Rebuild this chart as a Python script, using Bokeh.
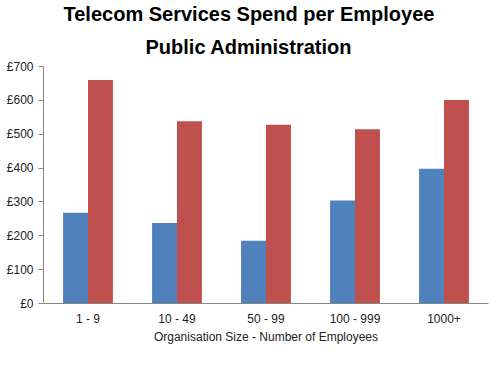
from bokeh.plotting import figure
from bokeh.models import (ColumnDataSource, FactorRange, Range1d, Title, Legend, LegendItem,
                          PrintfTickFormatter, FixedTicker)
from bokeh.transform import dodge
from bokeh.embed import file_html
from bokeh.resources import INLINE

categories = ["1 - 9", "10 - 49", "50 - 99", "100 - 999", "1000+"]
public_admin = [268, 238, 185, 304, 398]
all_uk = [660, 538, 528, 515, 601]
series_names = ["Public Administration", "All UK Organisations"]
y_ticks = [0, 100, 200, 300, 400, 500, 600, 700]

src = ColumnDataSource(dict(cat=categories, pa=public_admin, uk=all_uk))

FONT = "Liberation Sans"

p = figure(x_range=FactorRange(*categories, range_padding=0), y_range=Range1d(0, 700),
           frame_width=445, frame_height=237, output_backend="svg", toolbar_location=None,
           min_border_left=43, min_border_right=4, min_border_top=61, min_border_bottom=75)
p.outline_line_color = None
p.background_fill_color = "white"
p.border_fill_color = "white"
p.xgrid.grid_line_color = None
p.ygrid.grid_line_color = None

r1 = p.vbar(x=dodge("cat", -0.14, range=p.x_range), top="pa", width=0.28, source=src,
            fill_color="#4F81BD", line_color=None)
r2 = p.vbar(x=dodge("cat", 0.14, range=p.x_range), top="uk", width=0.28, source=src,
            fill_color="#C0504D", line_color=None)

# titles
t2 = Title(text="Public Administration", align="left", text_font=FONT, text_font_size="20px",
           text_font_style="bold", text_color="black", standoff=18, offset=102)
t1 = Title(text="Telecom Services Spend per Employee", align="left", text_font=FONT,
           text_font_size="20px", text_font_style="bold", text_color="black", standoff=0,
           offset=20)
p.add_layout(t2, "above")
p.add_layout(t1, "above")

# y axis
ya = p.yaxis[0]
ya.ticker = FixedTicker(ticks=y_ticks)
ya.formatter = PrintfTickFormatter(format="£%d")
ya.axis_line_color = "#868686"
ya.major_tick_line_color = "#868686"
ya.major_tick_out = 5
ya.major_tick_in = 0
ya.minor_tick_line_color = None
ya.major_label_text_font = FONT
ya.major_label_text_font_size = "12px"
ya.major_label_text_color = "#222222"
ya.major_label_standoff = 5

# x axis
xa = p.xaxis[0]
xa.axis_line_color = "#868686"
xa.major_tick_line_color = None
xa.minor_tick_line_color = None
xa.major_label_text_font = FONT
xa.major_label_text_font_size = "12px"
xa.major_label_text_color = "#222222"
xa.major_label_standoff = 2
xa.axis_label = "Organisation Size - Number of Employees"
xa.axis_label_text_font = FONT
xa.axis_label_text_font_size = "12px"
xa.axis_label_text_font_style = "normal"
xa.axis_label_text_color = "#222222"
xa.axis_label_standoff = 1

legend = Legend(items=[LegendItem(label=series_names[0], renderers=[r1]),
                       LegendItem(label=series_names[1], renderers=[r2])],
                orientation="horizontal", location=(71, 0),
                border_line_color=None, background_fill_alpha=0,
                glyph_width=8, glyph_height=8, label_standoff=2, spacing=20,
                label_text_font=FONT, label_text_font_size="12px", label_text_color="#222222",
                padding=2, margin=0)
p.add_layout(legend, "below")

open("out.html", "w").write(file_html(p, INLINE))
